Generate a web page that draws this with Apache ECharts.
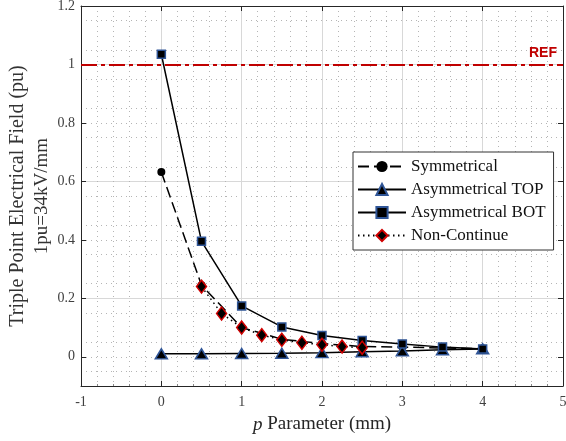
<!DOCTYPE html>
<html><head><meta charset="utf-8">
<script src="https://cdn.jsdelivr.net/npm/echarts@6/dist/echarts.min.js"></script>
<style>html,body{margin:0;padding:0;background:#fff}#c{width:566px;height:441px}</style>
</head><body><div id="c"></div>
<script>
// ---- data ----
const xSym = [0, 0.5, 1, 1.5, 2, 2.5, 3, 3.5, 4];
const ySym = [0.632, 0.245, 0.100, 0.060, 0.045, 0.035, 0.033, 0.030, 0.028];
const xTop = [0, 0.5, 1, 1.5, 2, 2.5, 3, 3.5, 4];
const yTop = [0.010, 0.010, 0.011, 0.012, 0.014, 0.017, 0.020, 0.024, 0.027];
const xBot = [0, 0.5, 1, 1.5, 2, 2.5, 3, 3.5, 4];
const yBot = [1.035, 0.395, 0.174, 0.102, 0.073, 0.056, 0.044, 0.033, 0.027];
const xNon = [0.5, 0.75, 1, 1.25, 1.5, 1.75, 2, 2.25, 2.5];
const yNon = [0.240, 0.148, 0.100, 0.074, 0.058, 0.048, 0.041, 0.035, 0.031];
const refValue = [1];
const seriesNames = ['Symmetrical', 'Asymmetrical TOP', 'Asymmetrical BOT', 'Non-Continue'];
const yTickValues = [0, 0.2, 0.4, 0.6, 0.8, 1, 1.2];
const yTickLabels = ['0', '0.2', '0.4', '0.6', '0.8', '1', '1.2'];
const xTickLabels = ['-1', '0', '1', '2', '3', '4', '5'];

const zip = (xs, ys) => xs.map((x, i) => [x, ys[i]]);
const SERIF = 'Liberation Serif';
const AX = '#262626';
const MAJOR = '#d8d8d8';
const MINOR = '#b5b5b5';

function yLabel(v) {
  for (let i = 0; i < yTickValues.length; i++) {
    if (Math.abs(v - yTickValues[i]) < 1e-6) return yTickLabels[i];
  }
  return '';
}
function xLabel(v) {
  const i = Math.round(v) + 1;
  return xTickLabels[i] !== undefined ? xTickLabels[i] : '';
}

const chart = echarts.init(document.getElementById('c'), null, {renderer: 'canvas'});
chart.setOption({
  animation: false,
  backgroundColor: '#fff',
  grid: {left: 81, right: 3, top: 6, bottom: 55, containLabel: false, outerBoundsMode: 'none'},
  xAxis: [{
    type: 'value', min: -1, max: 5, interval: 1, position: 'bottom',
    axisLine: {show: true, onZero: false, lineStyle: {color: AX, width: 1}},
    axisTick: {show: true, inside: true, length: 5, lineStyle: {color: AX}},
    minorTick: {show: true, splitNumber: 5, length: 2, lineStyle: {color: '#888'}},
    axisLabel: {formatter: xLabel, fontFamily: SERIF, fontSize: 14, color: '#404040', margin: 9},
    splitLine: {show: true, lineStyle: {color: MAJOR, width: 1}},
    minorSplitLine: {show: true, lineStyle: {color: MINOR, width: 1, type: [1, 4]}},
    name: '{i|p} Parameter (mm)', nameLocation: 'middle', nameGap: 29,
    nameTextStyle: {fontFamily: SERIF, fontSize: 19, color: '#262626',
      rich: {i: {fontFamily: SERIF, fontSize: 19, fontStyle: 'italic', color: '#262626'}}}
  }, {
    type: 'value', min: -1, max: 5, interval: 1, position: 'top',
    axisLine: {show: true, onZero: false, lineStyle: {color: AX, width: 1}},
    axisTick: {show: true, inside: true, length: 5, lineStyle: {color: AX}},
    axisLabel: {show: false}, splitLine: {show: false}
  }],
  yAxis: [{
    type: 'value', min: -0.1, max: 1.2, interval: 0.1, position: 'left',
    axisLine: {show: true, onZero: false, lineStyle: {color: AX, width: 1}},
    axisTick: {show: true, inside: true, length: 5, lineStyle: {color: AX}, customValues: yTickValues},
    axisLabel: {formatter: yLabel, fontFamily: SERIF, fontSize: 14, color: '#404040', margin: 6},
    splitLine: {show: true, lineStyle: {color: ['rgba(0,0,0,0)', MAJOR], width: 1}},
    minorTick: {show: false, splitNumber: 2},
    minorSplitLine: {show: true, lineStyle: {color: MINOR, width: 1, type: [1, 4]}},
    name: '{a|Triple Point Electrical Field (pu)}\n{b|1pu=34kV/mm}',
    nameLocation: 'middle', nameGap: 26, nameMoveOverlap: false,
    nameTextStyle: {color: '#262626', align: 'center',
      rich: {a: {fontFamily: SERIF, fontSize: 20, lineHeight: 25, color: '#333'},
             b: {fontFamily: SERIF, fontSize: 19, lineHeight: 25, color: '#333'}}}
  }, {
    type: 'value', min: -0.1, max: 1.2, interval: 0.1, position: 'right',
    axisLine: {show: true, onZero: false, lineStyle: {color: AX, width: 1}},
    axisTick: {show: true, inside: true, length: 5, lineStyle: {color: AX}, customValues: yTickValues},
    axisLabel: {show: false},
    splitLine: {show: true, lineStyle: {color: [MINOR, 'rgba(0,0,0,0)'], width: 1, type: [1, 4]}}
  }],
  legend: {
    orient: 'vertical', left: 353, top: 152,
    data: seriesNames,
    itemWidth: 48, itemHeight: 14, itemGap: 6,
    padding: [6, 8, 6, 4],
    backgroundColor: '#fff', borderColor: '#333', borderWidth: 1, borderRadius: 0,
    textStyle: {fontFamily: SERIF, fontSize: 17, color: '#111', lineHeight: 14},
    inactiveColor: '#000'
  },
  series: [{
    name: seriesNames[0], type: 'line', data: zip(xSym, ySym),
    symbol: 'circle', symbolSize: 8, z: 2,
    itemStyle: {color: '#000'},
    lineStyle: {color: '#000', width: 1.5, type: [11, 5]},
    markLine: {
      silent: true, symbol: ['none', 'none'], animation: false,
      data: [{yAxis: refValue[0]}],
      lineStyle: {color: '#c00000', width: 2, type: [16, 4, 4, 4]},
      label: {show: true, position: 'insideEndTop', formatter: 'REF', color: '#c00000',
        fontFamily: 'Liberation Sans', fontWeight: 'bold', fontSize: 14, distance: [6, 4]}
    }
  }, {
    name: seriesNames[1], type: 'line', data: zip(xTop, yTop),
    symbol: 'triangle', symbolSize: [12, 10], z: 3,
    itemStyle: {color: '#000', borderColor: '#2f5597', borderWidth: 1.5},
    lineStyle: {color: '#000', width: 1.5}
  }, {
    name: seriesNames[2], type: 'line', data: zip(xBot, yBot),
    symbol: 'rect', symbolSize: 8, z: 4,
    itemStyle: {color: '#000', borderColor: '#2f5597', borderWidth: 1.5},
    lineStyle: {color: '#000', width: 1.5}
  }, {
    name: seriesNames[3], type: 'line', data: zip(xNon, yNon),
    symbol: 'diamond', symbolSize: [10, 13], z: 5,
    itemStyle: {color: '#000', borderColor: '#d00000', borderWidth: 1.5},
    lineStyle: {color: '#000', width: 1.5, type: [1.5, 3.5]}
  }]
});
</script></body></html>
